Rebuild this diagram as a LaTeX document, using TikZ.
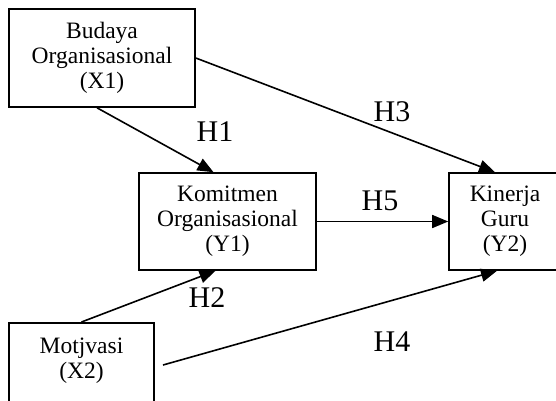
\documentclass[tikz,border=0pt]{standalone}
\usepackage{fontspec}
\setmainfont{Liberation Serif}
\usetikzlibrary{arrows.meta,positioning,calc}

\tikzset{
    var/.style={draw, line width=1.6pt, align=center, inner sep=0pt,
        font=\fontsize{23.5}{25}\selectfont},
    hyp/.style={inner sep=0pt, font=\fontsize{30}{32}\selectfont},
    link/.style={line width=1.6pt, -{Triangle[length=16pt,width=13pt]}}
}

\begin{document}
\begin{tikzpicture}[x=1pt,y=-1pt]
    \useasboundingbox (0,0) rectangle (556,400);
    \clip (0,0) rectangle (556,400);

    % Variables
    \node[var, minimum width=186pt, minimum height=98pt] (x1) at (102,58) {Budaya\\Organisasional\\(X1)};
    \node[var, minimum width=177pt, minimum height=97pt] (y1) at (227.5,221.5) {Komitmen\\Organisasional\\(Y1)};
    \node[var, minimum width=112pt, minimum height=97pt] (y2) at (505,221.5) {Kinerja\\Guru\\(Y2)};
    \node[var, anchor=north, minimum width=145pt, inner ysep=15pt, text depth=30pt] (x2) at (81.5,322) {Motjvasi\\(X2)};
    \coordinate (h4s) at (163,365);

    % Paths
    \draw[link] ([xshift=-5pt]x1.south) -- ([xshift=-14pt]y1.north);
    \draw[link] (x1.east) -- ([xshift=-10pt]y2.north);
    \draw[link] (y1) -- (y2);
    \draw[link] (x2.north) -- ([xshift=-12pt]y1.south);
    \draw[link] (h4s) -- ([xshift=-8pt]y2.south);

    % Hypotheses
    \node[hyp] (h1) at (215,132) {H1};
    \node[hyp] (h3) at (392,112) {H3};
    \node[hyp] (h5) at (380,201) {H5};
    \node[hyp] (h2) at (207,298) {H2};
    \node[hyp] (h4) at (392,342) {H4};
\end{tikzpicture}
\end{document}
